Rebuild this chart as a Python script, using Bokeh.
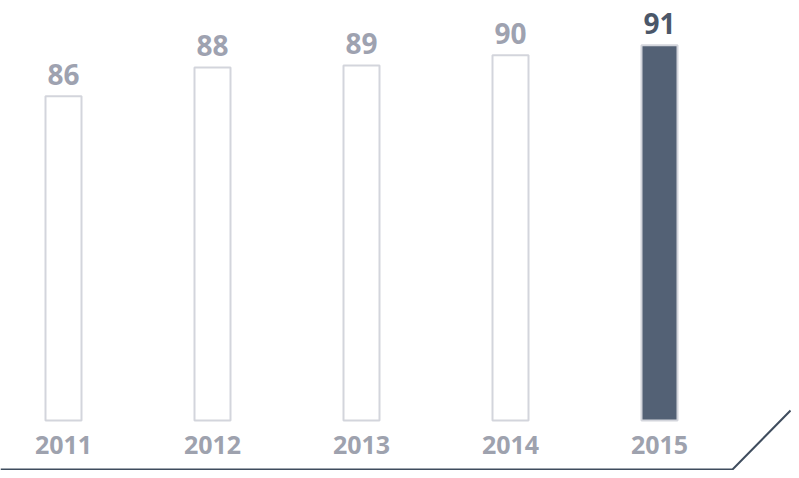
from bokeh.plotting import figure
from bokeh.models import ColumnDataSource, Range1d
from bokeh.core.properties import value
from bokeh.embed import file_html
from bokeh.resources import INLINE

# ---- data ----
years = ["2011", "2012", "2013", "2014", "2015"]
values = [86.0, 88.8, 89.0, 90.0, 91.0]          # bar heights
value_labels = ["86", "88", "89", "90", "91"]
fill_colors = ["#ffffff", "#ffffff", "#ffffff", "#ffffff", "#536175"]
label_colors = ["#9ea2b0", "#9ea2b0", "#9ea2b0", "#9ea2b0", "#4b5769"]

W, H = 791, 470
px_per_unit_x = 149.0
x0_px = 63.0
base = 54.2
px_per_unit_y = 10.2
base_px = 420.0  # from top

x_start = -x0_px / px_per_unit_x
x_end = (W - x0_px) / px_per_unit_x
y_start = base - (H - base_px) / px_per_unit_y
y_end = base + base_px / px_per_unit_y

def sx(px):
    return x_start + px / px_per_unit_x

def sy(py):
    return y_end - py / px_per_unit_y

p = figure(width=W, height=H, output_backend="svg", toolbar_location=None,
           x_range=Range1d(x_start, x_end), y_range=Range1d(y_start, y_end),
           min_border=0, outline_line_color=None)
p.axis.visible = False
p.grid.visible = False
p.background_fill_color = "white"
p.border_fill_color = "white"

xs = list(range(len(years)))
src = ColumnDataSource(dict(x=xs, top=values, year=years, lab=value_labels,
                            fill=fill_colors, lc=label_colors))

p.vbar(x="x", top="top", bottom=base, width=36 / px_per_unit_x, source=src,
       fill_color="fill", line_color="#d3d5dc", line_width=2)

p.text(x="x", y="top", text="lab", source=src, text_color="lc",
       text_font=value("Open Sans"), text_font_style="bold", text_font_size="28px",
       text_align="center", text_baseline="middle", y_offset=-22)

p.text(x="x", y=base, text="year", source=src, text_color="#9ea2ae",
       text_font=value("Open Sans"), text_font_style="bold", text_font_size="25px",
       text_align="center", text_baseline="middle", y_offset=24)

# decorative base line with diagonal end
p.line(x=[sx(0), sx(732), sx(790)], y=[sy(469), sy(469), sy(410)],
       line_color="#3f4d5e", line_width=2)

open("out.html", "w").write(file_html(p, INLINE))
